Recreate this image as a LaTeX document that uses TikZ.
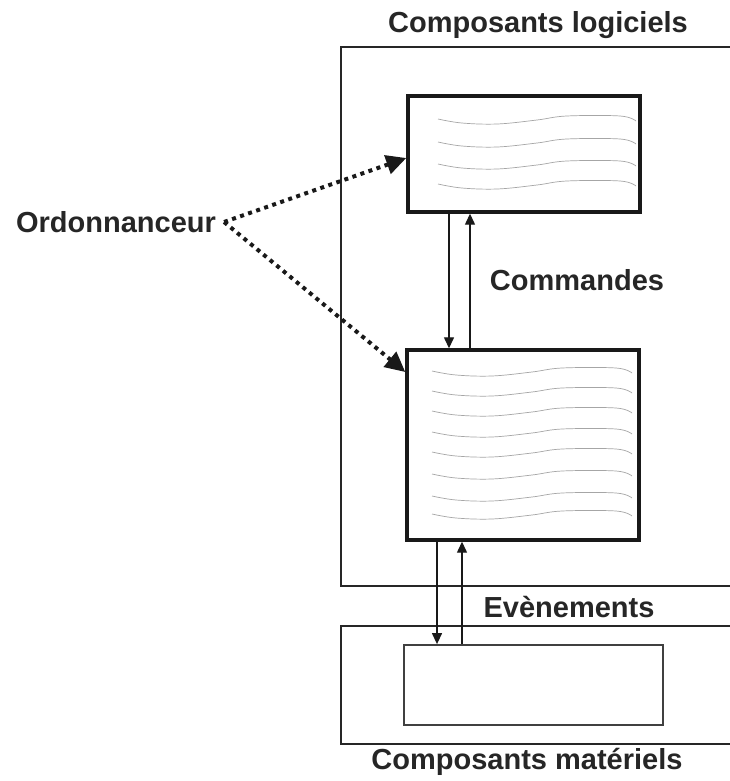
\documentclass[tikz,border=0pt]{standalone}
\usepackage{fontspec}
\setmainfont{Liberation Sans}
\usetikzlibrary{arrows.meta}
\tikzset{
  lbl/.style={font=\fontsize{29}{34}\bfseries\selectfont, inner sep=0pt, text=black!85},
  outerbox/.style={draw=black!85, line width=2.2pt, inner sep=0pt},
  swbox/.style={draw=black!90, line width=3.4pt, fill=white, inner sep=0pt},
  hwbox/.style={draw=black!75, line width=1.8pt, inner sep=0pt},
  flow/.style={draw=black!90, line width=1.3pt, -{Triangle[width=10pt,length=11pt]}},
  sched/.style={draw=black!90, line width=4pt, dash pattern=on 4pt off 4.5pt, -{Triangle[width=19pt,length=20pt]}},
  wave/.style={draw=black!35, line width=0.7pt}
}
\newcommand{\wavyline}[3]{% x0, y, width
  \draw[wave] plot[smooth, tension=0.6] coordinates {
    (#1,#2-1) ({#1+0.12*#3},#2+3) ({#1+0.3*#3},#2+4) ({#1+0.5*#3},#2)
    ({#1+0.65*#3},#2-4) ({#1+0.92*#3},#2-4) ({#1+#3},#2+1)};}
\begin{document}
\begin{tikzpicture}[x=1pt,y=-1pt]
\clip (0,0) rectangle (730,781);
\fill[white] (0,0) rectangle (730,781);

% outer boxes
\node[outerbox, minimum width=400pt, minimum height=539pt] (soft) at (541,316.5) {};
\node[outerbox, minimum width=400pt, minimum height=118pt] (hard) at (541,685) {};

% inner boxes
\node[swbox, minimum width=232pt, minimum height=116pt] (b1) at (524,154) {};
\node[swbox, minimum width=232pt, minimum height=190pt] (b2) at (523,445) {};
\node[hwbox, minimum width=259pt, minimum height=80pt] (hw) at (533.5,685) {};

% text lines
\foreach \yy in {120,143,165,185} {\wavyline{438}{\yy}{198}}
\foreach \yy in {372,392,412,433,453,475,497,515} {\wavyline{432}{\yy}{200}}

% labels
\node[lbl] (tsoft) at (538,25) {Composants logiciels};
\node[lbl] (tcmd) at (577,280) {Commandes};
\node[lbl] (tevt) at (569,607) {Evènements};
\node[lbl] (thard) at (527,762) {Composants matériels};
\node[lbl] (ord) at (116,222) {Ordonnanceur};

% commands
\draw[flow] (449,0 |- b1.south) -- (449,0 |- b2.north);
\draw[flow] (470,0 |- b2.north) -- (470,0 |- b1.south);
% events
\draw[flow] (437,0 |- b2.south) -- (437,0 |- hw.north);
\draw[flow] (462,0 |- hw.north) -- (462,0 |- b2.south);

% scheduler
\coordinate (os) at ([xshift=8pt]ord.east);
\draw[sched] (os) -- (b1.west |- 0,158);
\draw[sched] (os) -- (b2.west |- 0,372);
\end{tikzpicture}
\end{document}
